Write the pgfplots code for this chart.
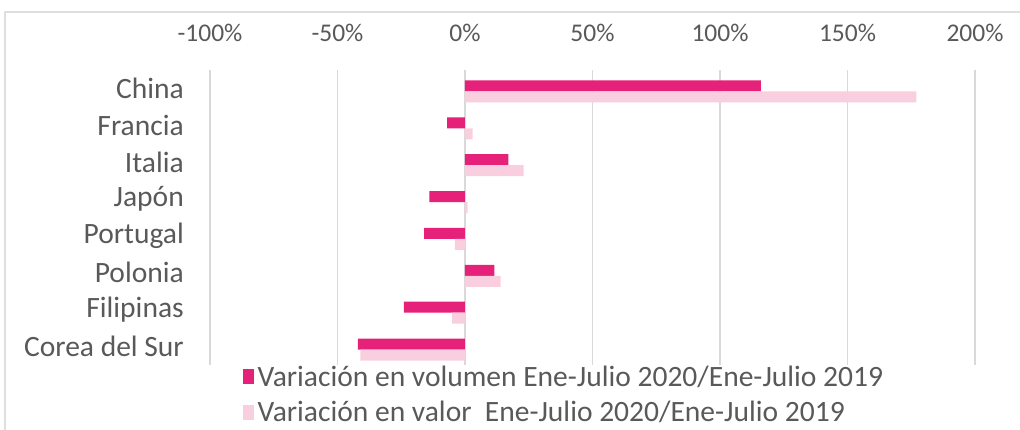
\documentclass[border=0pt]{standalone}
\usepackage{fontspec}
\setmainfont{Carlito}
\usepackage{pgfplots}
\pgfplotsset{compat=1.18}
\definecolor{vol}{HTML}{E6217A}
\definecolor{val}{HTML}{F9CFDF}
\definecolor{txt}{HTML}{595959}
\newcommand\tickfont{\fontsize{14.5}{17}\selectfont}
\newcommand\labfont{\fontsize{16.8}{19}\selectfont}

\begin{document}
\begin{tikzpicture}
% 1 px of the reference = 0.02cm
\path[use as bounding box] (0,0) rectangle (20.4cm,-8.6cm);
\draw[gray!25, line width=0.8pt] (0.1cm,-0.24cm) rectangle (20.6cm,-8.8cm);
\begin{axis}[
    at={(4.2cm,-7.3cm)},
    anchor=south west,
    scale only axis,
    width=15.3cm,
    height=5.9cm,
    xbar,
    bar width=0.22cm,
    xmin=-100, xmax=200,
    ymin=-0.5, ymax=7.5,
    y dir=reverse,
    xtick={-100,-50,0,50,100,150,200},
    xticklabels={-100\%,-50\%,0\%,50\%,100\%,150\%,200\%},
    xticklabel pos=top,
    xticklabel style={yshift=0.45cm, font=\tickfont, text=txt},
    ytick={0,...,7},
    yticklabels={China,Francia,Italia,Japón,Portugal,Polonia,Filipinas,Corea del Sur},
    yticklabel style={xshift=-0.4cm, font=\labfont, text=txt},
    major tick length=0pt,
    xmajorgrids=true,
    grid style={gray!30, line width=0.8pt},
    axis line style={draw=none},
    legend style={
        at={(axis description cs:0,0)},
        anchor=north west,
        xshift=0.55cm,
        yshift=0.13cm,
        draw=none, fill=none,
        font=\labfont, text=txt,
        row sep=0.1cm,
        legend cell align=left
    },
    legend image code/.code={\fill[#1] (0cm,-0.14cm) rectangle (0.22cm,0.16cm);},
]
\addplot[fill=vol, draw=none, bar shift=0.05cm] coordinates {
    (116,0) (-7,1) (17,2) (-14,3) (-16,4) (11.5,5) (-24,6) (-42,7)
};
\addplot[fill=val, draw=none, bar shift=-0.17cm] coordinates {
    (177,0) (3,1) (23,2) (1,3) (-4,4) (14,5) (-5,6) (-41,7)
};
\legend{Variación en volumen Ene-Julio 2020/Ene-Julio 2019,
        Variación en valor\ \ Ene-Julio 2020/Ene-Julio 2019}
\end{axis}
\end{tikzpicture}
\end{document}
